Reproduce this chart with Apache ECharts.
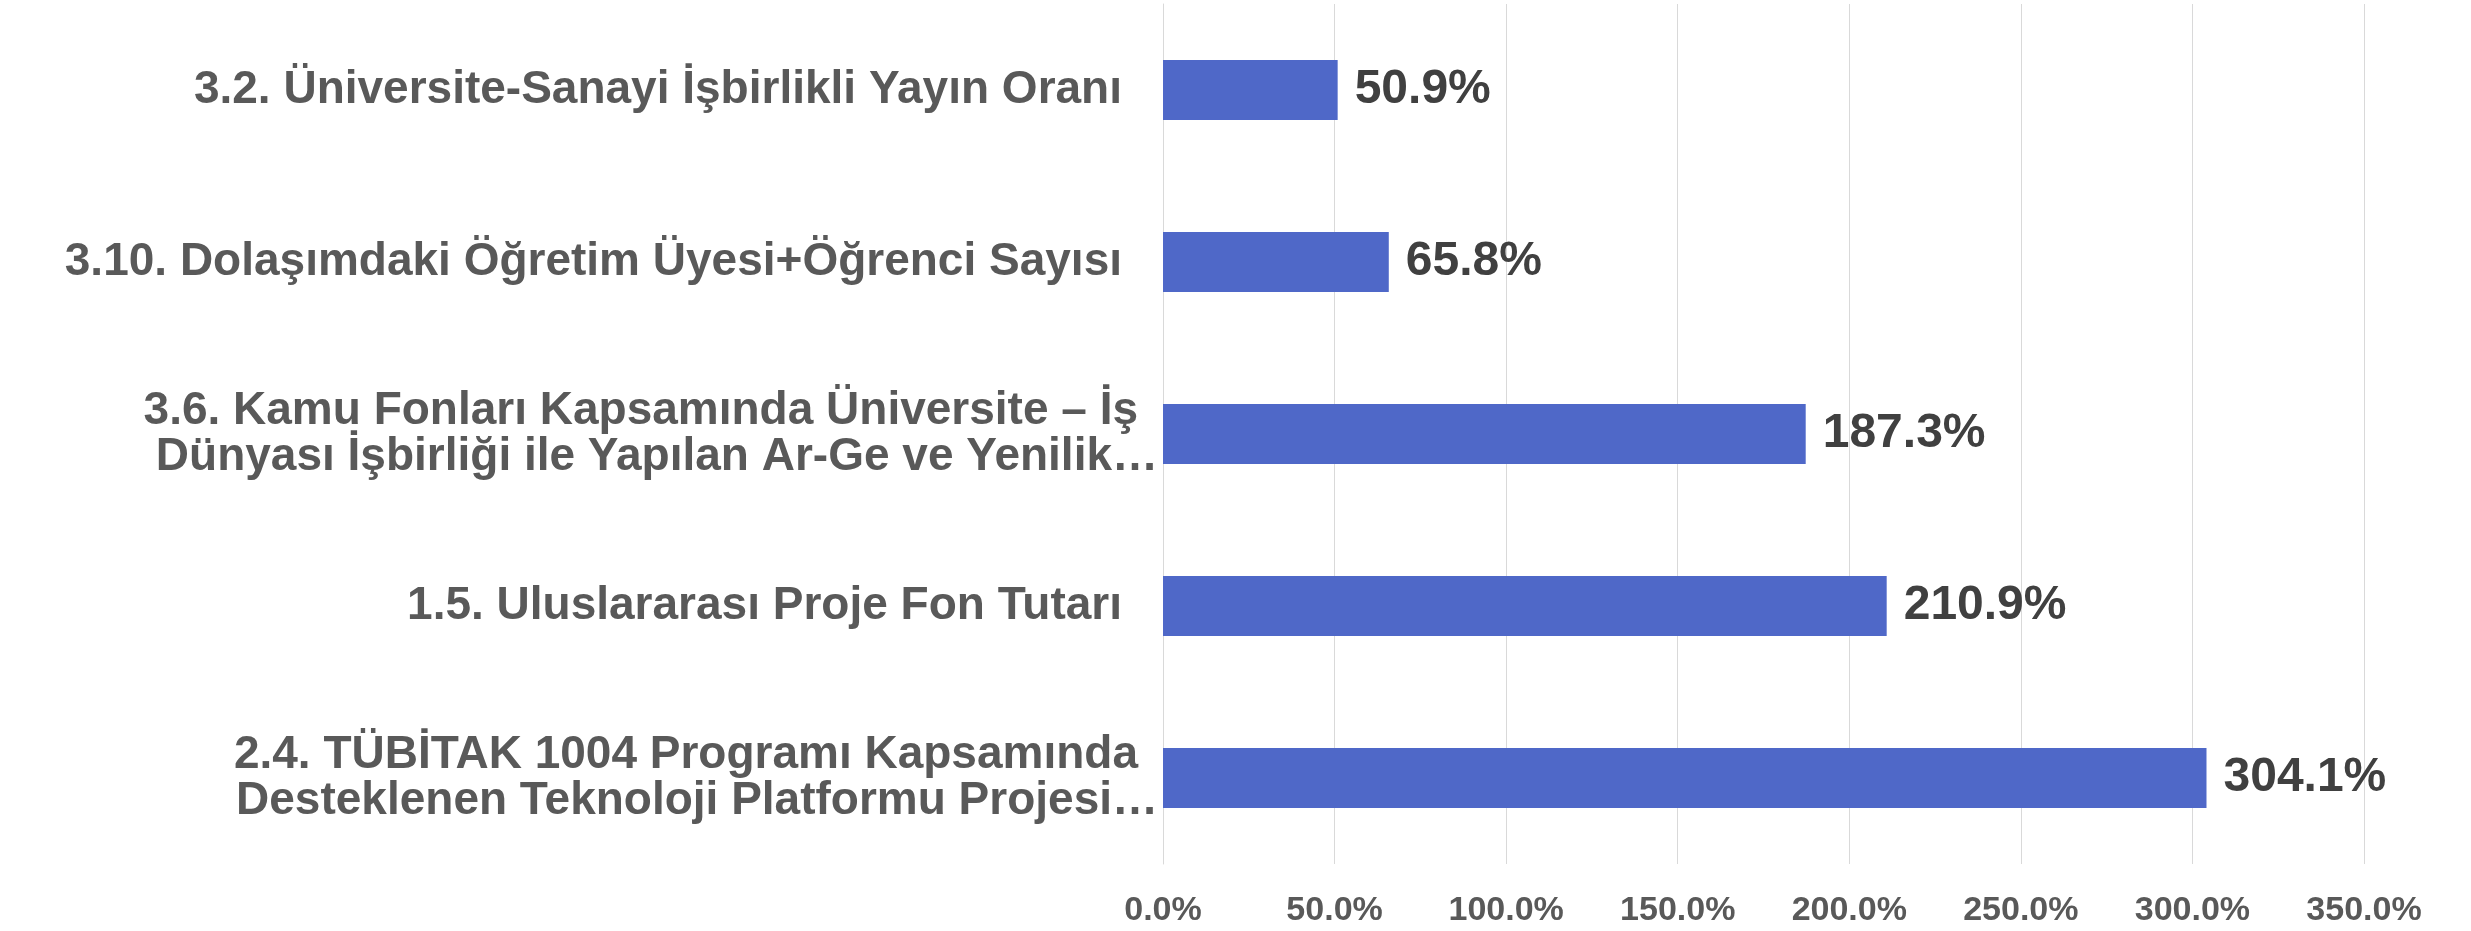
<!DOCTYPE html>
<html>
<head>
<meta charset="utf-8">
<script src="https://cdn.jsdelivr.net/npm/echarts@6/dist/echarts.min.js"></script>
<style>
html,body{margin:0;padding:0;background:#fff;}
#c{width:2471px;height:931px;}
</style>
</head>
<body>
<div id="c"></div>
<script>
const categories = [
  "3.2. Üniversite-Sanayi İşbirlikli Yayın Oranı",
  "3.10. Dolaşımdaki Öğretim Üyesi+Öğrenci Sayısı",
  "3.6. Kamu Fonları Kapsamında Üniversite – İş\nDünyası İşbirliği ile Yapılan Ar-Ge ve Yenilik…",
  "1.5. Uluslararası Proje Fon Tutarı",
  "2.4. TÜBİTAK 1004 Programı Kapsamında\nDesteklenen Teknoloji Platformu Projesi…"
];
const values = [50.9, 65.8, 187.3, 210.9, 304.1];
const axisMin = 0, axisMax = 350, axisStep = 50;

const FONT = 'Liberation Sans';
const catStyle = { color: '#595959', fontSize: 46, fontWeight: 'bold', fontFamily: FONT, lineHeight: 46 };

const chart = echarts.init(document.getElementById('c'));
chart.setOption({
  animation: false,
  grid: { left: 1163, right: 107, top: 4, bottom: 67, containLabel: false },
  xAxis: {
    type: 'value', min: axisMin, max: axisMax, interval: axisStep,
    axisLine: { show: false }, axisTick: { show: false },
    splitLine: { show: true, lineStyle: { color: '#D9D9D9', width: 1 } },
    axisLabel: {
      formatter: v => v.toFixed(1) + '%',
      color: '#595959', fontSize: 34, fontWeight: 'bold',
      fontFamily: FONT, margin: 30
    }
  },
  yAxis: {
    type: 'category', data: categories, inverse: true,
    axisLine: { show: true, lineStyle: { color: '#D9D9D9' } },
    axisTick: { show: false },
    axisLabel: Object.assign({}, catStyle, {
      margin: 5, align: 'right',
      formatter: function (v) {
        const lines = v.split('\n');
        return lines.map(function (l) {
          if (lines.length === 1) return '{s|' + l + '}';
          return l.endsWith('…') ? '{e|' + l + '}' : '{m|' + l + '}';
        }).join('\n');
      },
      rich: {
        s: Object.assign({}, catStyle, { padding: [0, 36, 0, 0] }),
        m: Object.assign({}, catStyle, { padding: [0, 20, 0, 0] }),
        e: Object.assign({}, catStyle)
      }
    })
  },
  series: [{
    type: 'bar', data: values, barWidth: 60,
    itemStyle: { color: '#4F68C8' },
    label: {
      show: true, position: 'right', distance: 17,
      formatter: p => p.value.toFixed(1) + '%',
      color: '#404040', fontSize: 48, fontWeight: 'bold', fontFamily: FONT
    }
  }]
});
</script>
</body>
</html>
